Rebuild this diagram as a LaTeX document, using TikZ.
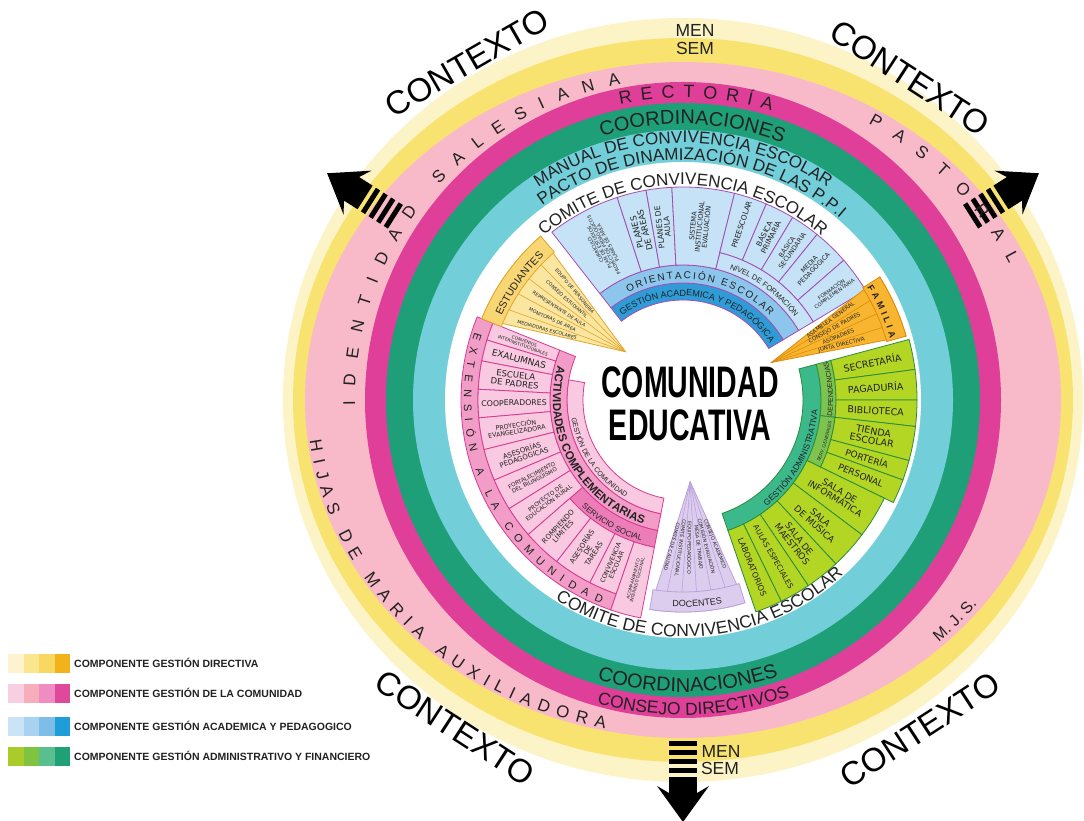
\documentclass[tikz,border=0pt]{standalone}
\usepackage{fontspec}
\setmainfont{Liberation Sans}
\newfontfamily\cellfont{DejaVu Sans}
\usetikzlibrary{decorations.text}

\definecolor{inkgray}{HTML}{222222}
\definecolor{paleyellow}{HTML}{FCF3C6}
\definecolor{ringyellow}{HTML}{F9E370}
\definecolor{lightpink}{HTML}{F8BAC8}
\definecolor{ringmagenta}{HTML}{DF3F98}
\definecolor{ringgreen}{HTML}{1E9F77}
\definecolor{ringcyan}{HTML}{72CFDA}
\definecolor{bdark}{HTML}{2F9CD8}
\definecolor{bmid}{HTML}{8CC6EC}
\definecolor{blight}{HTML}{C6E2F6}
\definecolor{bborder}{HTML}{A34DB3}
\definecolor{pcell}{HTML}{F8C9E1}
\definecolor{pmid}{HTML}{F29CC8}
\definecolor{pdark}{HTML}{EC7DB8}
\definecolor{pborder}{HTML}{D83A91}
\definecolor{glime}{HTML}{B3D523}
\definecolor{gmid}{HTML}{7CC44F}
\definecolor{gteal}{HTML}{3CB98B}
\definecolor{gborder}{HTML}{2C8C3C}
\definecolor{estfill}{HTML}{FBE6A0}
\definecolor{estband}{HTML}{F8D673}
\definecolor{estborder}{HTML}{E3A52B}
\definecolor{famfill}{HTML}{F8B630}
\definecolor{famborder}{HTML}{DD8A0C}
\definecolor{docfill}{HTML}{DCCDEE}
\definecolor{docborder}{HTML}{B9A2DA}
\definecolor{dirA}{HTML}{FDF4CF}
\definecolor{dirB}{HTML}{FBE690}
\definecolor{dirC}{HTML}{F8D861}
\definecolor{dirD}{HTML}{F2B21B}
\definecolor{comA}{HTML}{F8CFE2}
\definecolor{comB}{HTML}{F6AEBC}
\definecolor{comC}{HTML}{EF8CC1}
\definecolor{comD}{HTML}{E0489C}
\definecolor{acaA}{HTML}{C9E4F6}
\definecolor{acaB}{HTML}{A8D2F0}
\definecolor{acaC}{HTML}{7DBDE8}
\definecolor{acaD}{HTML}{1E9DD8}
\definecolor{admA}{HTML}{A9CC2B}
\definecolor{admB}{HTML}{80C341}
\definecolor{admC}{HTML}{5ABF8F}
\definecolor{admD}{HTML}{20A077}

% one cell of a ring: style, start angle, end angle, inner radius, outer radius
\newcommand{\ringcell}[5]{\draw[#1] (#2:#4) arc[start angle=#2, end angle=#3, radius=#4] -- (#3:#5) arc[start angle=#3, end angle=#2, radius=#5] -- cycle;}
% text on an arc: [align], font, radius, start angle, end angle, text
\newcommand{\arctext}[6][center]{\path[decorate, decoration={text along path, text align=#1, text color=inkgray, text={|#2|#6}}] (#4:#3) arc[start angle=#4, end angle=#5, radius=#3];}
% text on an elliptic arc: [align], font, x radius, y radius, start angle, end angle, text
\newcommand{\ovaltext}[7][center]{\path[decorate, decoration={text along path, text align=#1, text color=inkgray, text={|#2|#7}}] (#5:#3 and #4) arc[start angle=#5, end angle=#6, x radius=#3, y radius=#4];}

\begin{document}
\begin{tikzpicture}[x=1pt, y=1pt,
    celltxt/.style={font=\cellfont\fontsize{#1}{#1}\selectfont, text=inkgray, align=center, inner sep=0pt},
    bluecell/.style={fill=blight, draw=bborder, line width=0.8pt},
    bdarkcell/.style={fill=bdark, draw=bborder, line width=0.8pt},
    bmidcell/.style={fill=bmid, draw=bborder, line width=0.8pt},
    pinkcell/.style={fill=pcell, draw=pborder, line width=0.8pt},
    pmidcell/.style={fill=pmid, draw=pborder, line width=0.8pt},
    pdarkcell/.style={fill=pdark, draw=pborder, line width=0.8pt},
    greencell/.style={fill=glime, draw=gborder, line width=0.8pt},
    gmidcell/.style={fill=gmid, draw=gborder, line width=0.8pt},
    gtealcell/.style={fill=gteal, draw=gborder, line width=0.8pt},
    estcell/.style={fill=estfill, draw=estborder, line width=0.8pt},
    famcell/.style={fill=famfill, draw=famborder, line width=0.8pt},
    doccell/.style={fill=docfill, draw=docborder, line width=0.8pt},
    ctxfont/.style={font=\fontsize{33}{33}\selectfont, text=black},
    menfont/.style={font=\fontsize{17.5}{17.5}\selectfont, text=inkgray, inner sep=0pt},
    legendtext/.style={font=\bfseries\fontsize{10.5}{10.5}\selectfont, text=inkgray, anchor=west, inner sep=0pt}]
\useasboundingbox (0,0) rectangle (1084,820);
\fill[white] (0,0) rectangle (1084,820);

\begin{scope}[shift={(683,420)}]
    % outer rings
    \fill[paleyellow] (0,0) ellipse[x radius=400, y radius=382];
    \fill[ringyellow] (0,0) ellipse[x radius=390, y radius=362];
    \fill[lightpink] (0,0) ellipse[x radius=378, y radius=338];
    \fill[ringmagenta] (0,0) circle[radius=318];
    \fill[ringgreen] (0,0) circle[radius=297];
    \fill[ringcyan] (0,0) circle[radius=270];
    \fill[white] (0,0) circle[radius=238];

    % striped arrows
    \foreach \a in {147.5, 32.5, 270}{
        \begin{scope}[rotate=\a]
            \foreach \k in {0,...,3} \fill[black] (341+9*\k,-14) rectangle ++(5,28);
            \fill[black] (377,-14) rectangle (394,14);
            \fill[black] (393,14) -- (386,26) -- (422,0) -- (386,-26) -- (393,-14) -- cycle;
        \end{scope}}

    \node[ctxfont, rotate=30] (ctx1) at (-216,337) {CONTEXTO};
    \node[ctxfont, rotate=-33] (ctx2) at (227,322) {CONTEXTO};
    \node[ctxfont, rotate=-33] (ctx3) at (-228,-328) {CONTEXTO};
    \node[ctxfont, rotate=33] (ctx4) at (237,-330) {CONTEXTO};

    \node[menfont] (men1) at (12,370) {MEN};
    \node[menfont] (sem1) at (12,352) {SEM};
    \node[menfont] (men2) at (38,-351) {MEN};
    \node[menfont] (sem2) at (37,-368) {SEM};

    % ring labels
    \ovaltext[fit to path]{\fontsize{17}{17}\selectfont}{328}{322}{181}{101}{IDENTIDAD SALESIANA}
    \ovaltext[fit to path]{\fontsize{17}{17}\selectfont}{360}{322}{59}{25}{PASTORAL}
    \ovaltext[fit to path]{\fontsize{17}{17}\selectfont}{376}{336}{187}{258}{HIJAS DE MARIA AUXILIADORA}
    \ovaltext{\fontsize{16}{16}\selectfont}{372}{334}{305}{331}{M. J. S.}
    \arctext[fit to path]{\fontsize{18}{18}\selectfont}{302}{102}{73}{RECTORÍA}
    \arctext{\fontsize{20}{20}\selectfont}{276}{128}{48}{COORDINACIONES}
    \arctext{\fontsize{17}{17}\selectfont}{257}{140}{40}{MANUAL DE CONVIVENCIA ESCOLAR}
    \arctext{\fontsize{17}{17}\selectfont}{240}{140}{35}{PACTO DE DINAMIZACIÓN DE LAS P.P.I}
    \arctext{\fontsize{17}{17}\selectfont}{215}{140}{40}{COMITE DE CONVIVENCIA ESCOLAR}
    \arctext{\fontsize{17.5}{17.5}\selectfont}{237}{225}{325}{COMITE DE CONVIVENCIA ESCOLAR}
    \arctext{\fontsize{20}{20}\selectfont}{292}{221}{321}{COORDINACIONES}
    \arctext{\fontsize{17.5}{17.5}\selectfont}{315}{222}{322}{CONSEJO DIRECTIVOS}

    % gestion academica y pedagogica
    \ringcell{bdarkcell}{128}{31}{100}{117}
    \ringcell{bmidcell}{128}{31}{117}{135}
    \ringcell{bluecell}{76}{31}{135}{152}
    \foreach \s/\e/\t/\f [count=\i] in {128/108/{CURRÍCULO:\\PLAN DE ESTUDIOS\\PROYECTOS PEDAGÓGICOS\\PLANES DE ÁREA}/4.8,
            108/100/{PLANES\\DE ÁREAS}/8.3, 100/93/{PLANES DE\\AULA}/7.6, 93/76/{SISTEMA\\INSTITUCIONAL\\EVALUACIÓN}/6.7}{
        \ringcell{bluecell}{\s}{\e}{135}{213}
        \pgfmathsetmacro\m{(\s+\e)/2}
        \node[celltxt=\f, rotate=\m] (ac\i) at (\m:174) {\t};}
    \foreach \s/\e/\t/\f [count=\i] in {76/67/PREESCOLAR/7.4, 67/59/{BÁSICA\\PRIMARIA}/7.4, 59/51/{BÁSICA\\SECUNDARIA}/6.5,
            51/41/{MEDIA\\PEDAGÓGICA}/6.5, 41/31/{FORMACIÓN\\COMPLEMENTARIA}/5.2}{
        \ringcell{bluecell}{\s}{\e}{152}{213}
        \pgfmathsetmacro\m{(\s+\e)/2}
        \node[celltxt=\f, rotate=\m] (nf\i) at (\m:185) {\t};}
    \arctext{\fontsize{9}{9}\selectfont}{104}{128}{31}{GESTIÓN ACADEMICA Y PEDAGÓGICA}
    \arctext[fit to path]{\fontsize{10}{10}\selectfont}{121}{117}{44}{ORIENTACIÓN ESCOLAR}
    \arctext{\fontsize{7.5}{7.5}\selectfont}{139}{76}{31}{NIVEL DE FORMACIÓN}

    % gestion administrativa
    \ringcell{gtealcell}{15}{-71}{120}{138}
    \ringcell{gmidcell}{15}{-6.5}{138}{153}
    \ringcell{gmidcell}{-6.5}{-26}{138}{153}
    \foreach \s/\e/\t/\f [count=\i] in {15/7.5/SECRETARÍA/9.5, 7.5/0/PAGADURÍA/9.5, 0/-6.5/BIBLIOTECA/9.5,
            -6.5/-15/{TIENDA\\ESCOLAR}/9.5, -15/-20/PORTERÍA/9, -20/-26/PERSONAL/9}{
        \ringcell{greencell}{\s}{\e}{153}{234}
        \pgfmathsetmacro\m{(\s+\e)/2}
        \node[celltxt=\f, rotate=\m] (ad\i) at (\m:193) {\t};}
    \foreach \s/\e/\t/\f [count=\i] in {-26/-37/{SALA DE\\INFORMÁTICA}/9, -37/-47/{SALA\\DE MÚSICA}/9,
            -47/-56/{SALA DE\\MAESTROS}/9, -56/-64/{AULAS ESPECIALES}/7.5, -64/-71/LABORATORIOS/8}{
        \ringcell{greencell}{\s}{\e}{138}{224}
        \pgfmathsetmacro\m{(\s+\e)/2}
        \node[celltxt=\f, rotate=\m] (sl\i) at (\m:181) {\t};}
    \arctext{\fontsize{8.5}{8.5}\selectfont}{135}{-71}{15}{GESTIÓN ADMINISTRATIVA}
    \arctext{\fontsize{7}{7}\selectfont}{150}{-6.5}{15}{DEPENDENCIAS}
    \arctext{\fontsize{4.5}{4.5}\selectfont}{150}{-26}{-6.5}{SERV. GENERALES}

    % gestion de la comunidad
    \ringcell{pinkcell}{170}{259}{100}{116}
    \ringcell{pmidcell}{158}{259}{116}{133}
    \ringcell{pdarkcell}{221}{259}{133}{150}
    \ringcell{pmidcell}{158}{251}{205}{222}
    \foreach \s/\e/\t/\f [count=\i] in {158/163/{CONVENIOS\\INTERINSTITUCIONALES}/4.4, 163/169/EXALUMNAS/9,
            169/177/{ESCUELA\\DE PADRES}/8.5, 177/185/COOPERADORES/7.8, 185/194/{PROYECCIÓN\\EVANGELIZADORA}/6.3,
            194/203/{ASESORÍAS\\PEDAGÓGICAS}/7, 203/212/{FORTALECIMIENTO\\DEL BILINGÜISMO}/5.6,
            212/221/{PROYECTO DE\\EDUCACIÓN RURAL}/5.8}{
        \ringcell{pinkcell}{\s}{\e}{133}{205}
        \pgfmathsetmacro\m{(\s+\e)/2}
        \node[celltxt=\f, rotate=\m-180] (ex\i) at (\m:169) {\t};}
    \foreach \s/\e/\t/\f [count=\i] in {221/232/{ROMPIENDO\\LÍMITES}/7, 232/243/{ASESORÍAS\\DE\\TAREAS}/7,
            243/251/{CONVIVENCIA\\ESCOLAR}/6.3}{
        \ringcell{pinkcell}{\s}{\e}{150}{205}
        \pgfmathsetmacro\m{(\s+\e)/2}
        \node[celltxt=\f, rotate=\m-180] (ss\i) at (\m:178) {\t};}
    \ringcell{pinkcell}{251}{259}{150}{222}
    \node[celltxt=4.3, rotate=75] (acomp) at (255:186) {ACOMPAÑAMIENTO\\INTERINSTITUCIONAL};
    \arctext{\fontsize{7}{7}\selectfont}{113}{170}{259}{GESTIÓN DE LA COMUNIDAD}
    \arctext{\bfseries\fontsize{11.5}{11.5}\selectfont}{130}{158}{259}{ACTIVIDADES COMPLEMENTARIAS}
    \arctext{\fontsize{8}{8}\selectfont}{147}{221}{259}{SERVICIO SOCIAL}
    \arctext[fit to path]{\fontsize{11}{11}\selectfont}{219}{162}{248}{EXTENSIÓN A LA COMUNIDAD}

    % estudiantes
    \coordinate (ae) at (140:75);
    \draw[estcell] (ae) -- (131:217) arc[start angle=131, end angle=158, radius=217] -- cycle;
    \ringcell{estcell, fill=estband}{131}{158}{196}{217}
    \foreach \a in {136.4, 141.8, 147.2, 152.6} \draw[estborder, line width=0.6pt] (ae) -- (\a:196);
    \foreach \m/\t [count=\i] in {133.7/EQUIPO DE PERSONERÍA, 139.1/CONSEJO ESTUDIANTIL, 144.5/REPRESENTANTE DE AULA,
            149.9/MONITORAS DE ÁREA, 155.3/MEDIADORAS ESCOLARES}
        \path (ae) -- (\m:196) node[celltxt=4.7, sloped, pos=0.65] (es\i) {\t};
    \arctext{\fontsize{10.5}{10.5}\selectfont}{200}{158}{131}{ESTUDIANTES}

    % familia
    \coordinate (af) at (23:96);
    \draw[famcell] (af) -- (16:232) arc[start angle=16, end angle=32, radius=232] -- cycle;
    \ringcell{famcell}{32}{16}{212}{232}
    \foreach \a in {20, 24, 28} \draw[famborder, line width=0.6pt] (af) -- (\a:212);
    \foreach \m/\t [count=\i] in {30/ASAMBLEA GENERAL, 26/CONSEJO DE PADRES, 22/ASOPADRES, 18/JUNTA DIRECTIVA}
        \path (af) -- (\m:212) node[celltxt=5.5, sloped, pos=0.62] (fa\i) {\t};
    \arctext[fit to path]{\bfseries\fontsize{9}{9}\selectfont}{216}{31.5}{16.5}{FAMILIA}

    % docentes
    \coordinate (adoc) at (275:82);
    \draw[doccell] (adoc) -- (261:212) arc[start angle=261, end angle=287, radius=212] -- cycle;
    \ringcell{doccell}{261}{287}{192}{212}
    \foreach \a in {265.33, 269.67, 274, 278.33, 282.67} \draw[docborder, line width=0.6pt] (adoc) -- (\a:192);
    \foreach \m/\t [count=\i] in {263.2/COMITÉ DE CALIDAD, 267.5/COMITÉ INSTITUCIONAL, 271.8/EQUIPO PEDAGÓGICO,
            276.2/MESA DE TRABAJO, 280.5/COMISIÓN EVALUACIÓN, 284.8/CONSEJO ACADÉMICO}
        \path (adoc) -- (\m:192) node[celltxt=4.8, sloped, allow upside down, pos=0.6] (dc\i) {\t};
    \arctext{\fontsize{9}{9}\selectfont}{207}{261}{287}{DOCENTES}

    % centre
    \node[font=\bfseries\fontsize{28.5}{28.5}\selectfont, yscale=1.55, text=black] (comunidad) at (7,18) {COMUNIDAD};
    \node[font=\bfseries\fontsize{28.5}{28.5}\selectfont, yscale=1.55, text=black] (educativa) at (7,-25) {EDUCATIVA};
\end{scope}

% legend
\foreach \c [count=\j from 0] in {dirA, dirB, dirC, dirD} \fill[fill=\c] (8+15.5*\j,147.5) rectangle ++(15.5,19);
\foreach \c [count=\j from 0] in {comA, comB, comC, comD} \fill[fill=\c] (8+15.5*\j,117.5) rectangle ++(15.5,19);
\foreach \c [count=\j from 0] in {acaA, acaB, acaC, acaD} \fill[fill=\c] (8+15.5*\j,84.5) rectangle ++(15.5,19);
\foreach \c [count=\j from 0] in {admA, admB, admC, admD} \fill[fill=\c] (8+15.5*\j,54.5) rectangle ++(15.5,19);
\node[legendtext] (leg1) at (74,157) {COMPONENTE GESTIÓN DIRECTIVA};
\node[legendtext] (leg2) at (74,127) {COMPONENTE GESTIÓN DE LA COMUNIDAD};
\node[legendtext] (leg3) at (74,94) {COMPONENTE GESTIÓN ACADEMICA Y PEDAGOGICO};
\node[legendtext] (leg4) at (74,64) {COMPONENTE GESTIÓN ADMINISTRATIVO Y FINANCIERO};
\end{tikzpicture}
\end{document}
